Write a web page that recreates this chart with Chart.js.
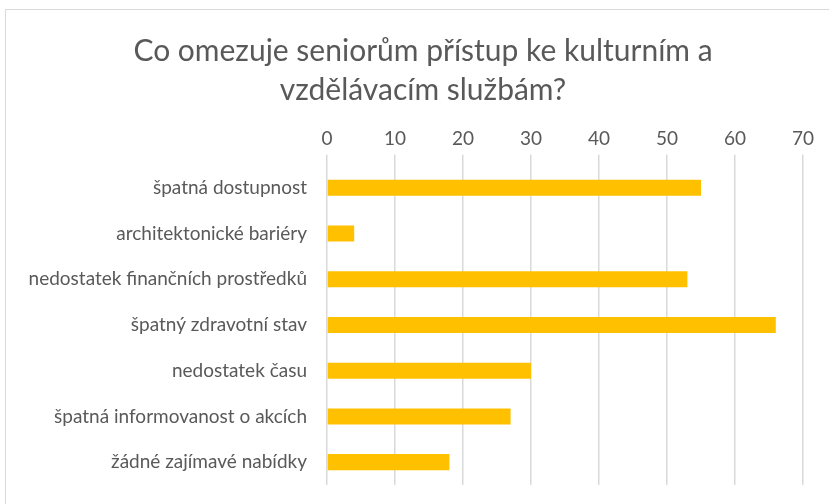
<!DOCTYPE html>
<html>
<head>
<meta charset="utf-8">
<script src="https://cdn.jsdelivr.net/npm/chart.js@4"></script>
<style>
  html, body { margin: 0; padding: 0; background: #fff; }
  #wrap { position: relative; width: 829px; height: 504px; overflow: hidden; }
  #frame { position: absolute; left: 5px; top: 9px; width: 840px; height: 520px; border: 1px solid #d9d9d9; box-sizing: border-box; }
  canvas { position: absolute; left: 0; top: 0; }
</style>
</head>
<body>
<div id="wrap">
  <div id="frame"></div>
  <canvas id="chart" width="829" height="504"></canvas>
</div>
<script>
// kategorie a hodnoty
const categories = [
  'špatná dostupnost',
  'architektonické bariéry',
  'nedostatek finančních prostředků',
  'špatný zdravotní stav',
  'nedostatek času',
  'špatná informovanost o akcích',
  'žádné zajímavé nabídky'
];
const values = [55, 4, 53, 66, 30, 27, 18];
const titleLines = ['Co omezuje seniorům přístup ke kulturním a', 'vzdělávacím službám?'];
const axisMin = 0, axisMax = 70, axisStep = 10;

const textColor = '#595959';
const gridColor = '#d9d9d9';
const barColor = '#ffc000';

const ctx = document.getElementById('chart').getContext('2d');
new Chart(ctx, {
  type: 'bar',
  data: {
    labels: categories,
    datasets: [{
      data: values,
      backgroundColor: barColor,
      borderWidth: 0,
      categoryPercentage: 0.7,
      barPercentage: 0.5
    }]
  },
  options: {
    indexAxis: 'y',
    responsive: false,
    animation: false,
    layout: { padding: { top: 9, left: 20, right: 3, bottom: 19 } },
    plugins: {
      legend: { display: false },
      tooltip: { enabled: false },
      title: {
        display: true,
        text: titleLines,
        color: textColor,
        font: { family: 'Lato', size: 30, weight: 'normal', lineHeight: 1.3 },
        padding: { top: 23, bottom: 12 }
      }
    },
    scales: {
      x: {
        position: 'top',
        min: axisMin,
        max: axisMax,
        // pravý okraj grafu na x = 803, nadpis zůstává na celé šířce
        afterFit: (scale) => { scale.paddingRight = 26; },
        ticks: { stepSize: axisStep, color: textColor, font: { family: 'Lato', size: 19 }, padding: 5 },
        grid: { color: gridColor, lineWidth: 1.5, tickLength: 10 },
        border: { display: false }
      },
      y: {
        afterFit: (scale) => {
          scale.width = 307;
          scale.paddingTop = 0;
          scale.paddingBottom = 0;
        },
        ticks: { color: textColor, font: { family: 'Lato', size: 19 }, padding: 20 },
        grid: { display: false, drawTicks: false },
        border: { display: false }
      }
    }
  }
});
</script>
</body>
</html>
